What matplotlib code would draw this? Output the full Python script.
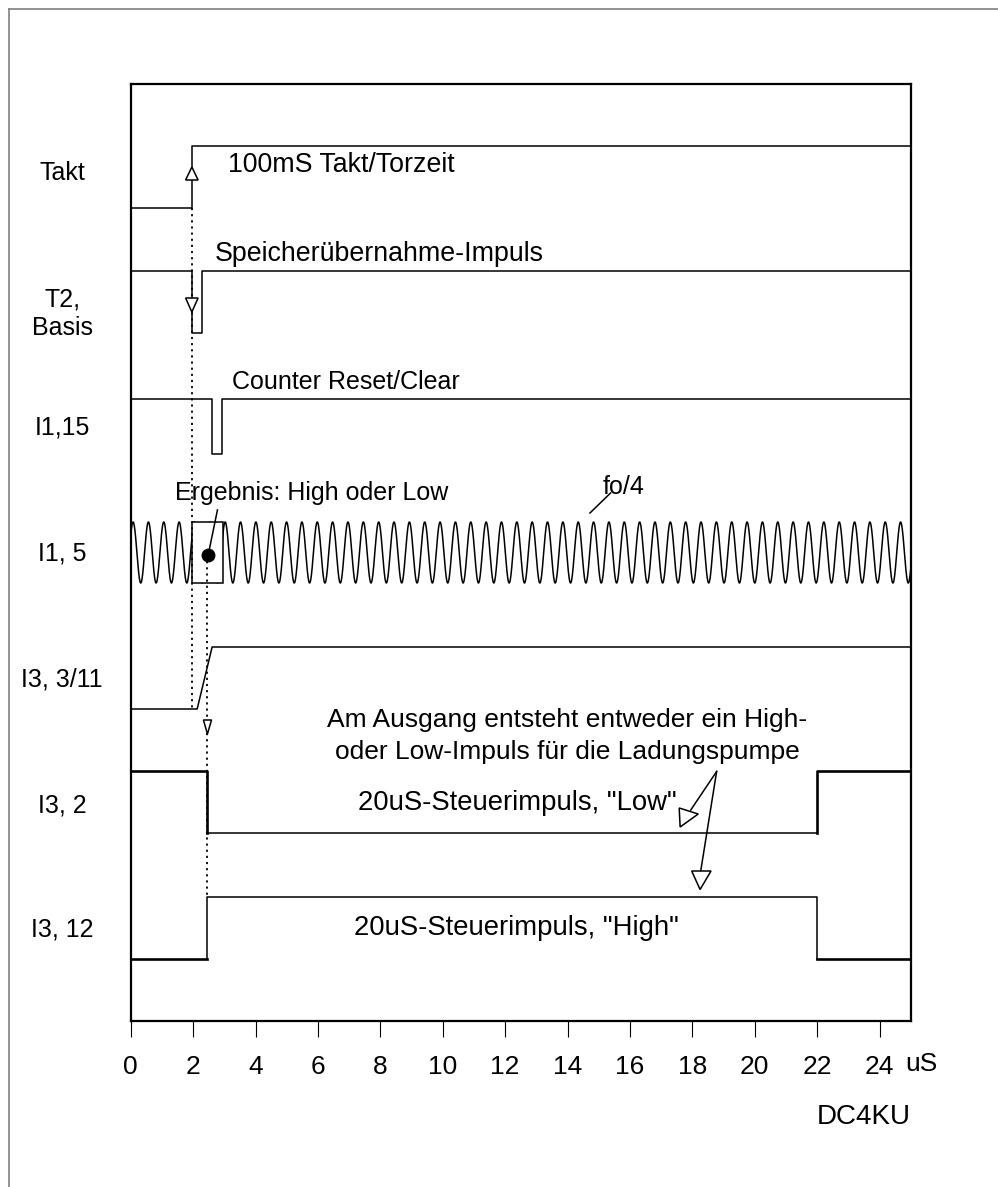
import matplotlib
matplotlib.use('Agg')
import matplotlib.pyplot as plt
from matplotlib.lines import Line2D
from matplotlib.patches import Polygon, Rectangle
import numpy as np

plt.rcParams['font.family'] = ['Liberation Sans', 'DejaVu Sans']

# time axis in uS, vertical positions in drawing units (top = small)
ticks = list(range(0, 25, 2))
tick_labels = [str(t) for t in ticks]

lane_labels = ['Takt', 'T2,\nBasis', 'I1,15', 'I1, 5', 'I3, 3/11', 'I3, 2', 'I3, 12']
lane_label_y = [173, 314, 427, 553, 680, 805, 930]

# signal traces (time, level)
takt_t = [0, 1.96, 1.96, 25]
takt_y = [208, 208, 146, 146]
t2_t = [0, 1.96, 1.96, 2.3, 2.3, 25]
t2_y = [271, 271, 333, 333, 271, 271]
reset_t = [0, 2.62, 2.62, 2.94, 2.94, 25]
reset_y = [399, 399, 454, 454, 399, 399]
i3_311_t = [0, 2.13, 2.61, 25]
i3_311_y = [709, 709, 647, 647]
i3_2_thick_a = ([0, 2.46, 2.46], [771, 771, 833])
i3_2_thin = ([2.46, 22.0], [833, 833])
i3_2_thick_b = ([22.0, 22.0, 25], [833, 771, 771])
i3_12_thick_a = ([0, 2.46], [959, 959])
i3_12_thin = ([2.46, 2.46, 22.0, 22.0], [959, 897, 897, 959])
i3_12_thick_b = ([22.0, 25], [959, 959])

# fo/4 clock
fo4_center = 552.5
fo4_amp = 30.5
fo4_period = 0.492
fo4_first_peak = 0.076

# result window on the clock
win_t0, win_t1 = 1.98, 2.96
win_top, win_bot = 522, 583
dot_t, dot_y = 2.47, 555

fig = plt.figure(figsize=(9.98, 11.87), dpi=100)
ax = fig.add_axes([130.7 / 998, 1 - 1021 / 1187, 780 / 998, 937 / 1187])
ax.set_xlim(0, 25)
ax.set_ylim(1021, 84)

for s in ax.spines.values():
    s.set_linewidth(1.6)

ax.set_yticks([])
ax.set_xticks(ticks)
ax.set_xticklabels(tick_labels, fontsize=19)
ax.tick_params(axis='x', direction='out', length=11.5, width=0.8, pad=13)

lw = 1.1
thick = 1.9
ax.plot(takt_t, takt_y, color='black', lw=lw)
ax.plot(t2_t, t2_y, color='black', lw=lw)
ax.plot(reset_t, reset_y, color='black', lw=lw)
ax.plot(i3_311_t, i3_311_y, color='black', lw=lw)
ax.plot(*i3_2_thick_a, color='black', lw=thick)
ax.plot(*i3_2_thin, color='black', lw=lw)
ax.plot(*i3_2_thick_b, color='black', lw=thick)
ax.plot(*i3_12_thick_a, color='black', lw=thick)
ax.plot(*i3_12_thin, color='black', lw=lw)
ax.plot(*i3_12_thick_b, color='black', lw=thick)

tt = np.linspace(0, 25, 5000)
ax.plot(tt, fo4_center - fo4_amp * np.cos(2 * np.pi * (tt - fo4_first_peak) / fo4_period),
        color='black', lw=lw)
ax.add_patch(Rectangle((win_t0, win_top), win_t1 - win_t0, win_bot - win_top,
                       facecolor='white', edgecolor='black', lw=lw, zorder=3))

# dotted guides
dots = (0, (1.2, 2.2))
ax.plot([1.98, 1.98], [208, 709], color='black', lw=1.3, ls=dots, zorder=4)
ax.plot([dot_t - 0.01, dot_t - 0.01], [dot_y, 897], color='black', lw=1.3, ls=dots, zorder=4)
ax.plot([dot_t], [dot_y], marker='o', ms=9, color='black', zorder=5)


def tri(pts):
    ax.add_patch(Polygon(pts, closed=True, facecolor='white', edgecolor='black', lw=1.1, zorder=6))


# open arrow heads
tri([(1.96 - 0.2, 180), (1.96 + 0.2, 180), (1.96, 167)])
tri([(1.96 - 0.2, 298), (1.96 + 0.2, 298), (1.96, 312)])
tri([(2.46 - 0.13, 720), (2.46 + 0.13, 720), (2.46, 734)])

# Ladungspumpe pointers
apex = (18.78, 771.5)
ax.plot([apex[0], 17.95], [apex[1], 810], color='black', lw=lw)
tri([(17.58, 808), (17.61, 827), (18.19, 814)])
ax.plot([apex[0], 18.27], [apex[1], 871], color='black', lw=lw)
tri([(17.98, 871), (18.60, 871), (18.25, 889.5)])

# leaders
ax.plot([2.78, 2.51], [510, 551], color='black', lw=lw, zorder=6)
ax.plot([15.38, 14.72], [493, 513], color='black', lw=lw)

fs = 18
for lab, y in zip(lane_labels, lane_label_y):
    ax.text(-2.2, y, lab, fontsize=fs, ha='center', va='center', clip_on=False, linespacing=1.25)

ax.text(3.11, 165, '100mS Takt/Torzeit', fontsize=19.3, va='center')
ax.text(2.70, 254, 'Speicherübernahme-Impuls', fontsize=19.3, va='center')
ax.text(3.25, 382, 'Counter Reset/Clear', fontsize=fs, va='center')
ax.text(1.42, 493, 'Ergebnis: High oder Low', fontsize=fs, va='center', zorder=7)
ax.text(15.14, 487, 'fo/4', fontsize=fs, va='center')
ax.text(13.98, 736, 'Am Ausgang entsteht entweder ein High-\noder Low-Impuls für die Ladungspumpe',
        fontsize=19, ha='center', va='center', linespacing=1.38)
ax.text(7.29, 803, '20uS-Steuerimpuls, "Low"', fontsize=19.8, va='center')
ax.text(7.16, 928, '20uS-Steuerimpuls, "High"', fontsize=19.8, va='center')
ax.text(24.81, 1064, 'uS', fontsize=19, va='center', clip_on=False)
ax.text(25, 1117, 'DC4KU', fontsize=20, ha='right', va='center', clip_on=False)

# outer page frame (left and top only)
fig.add_artist(Line2D([9 / 998, 9 / 998], [0, 1 - 9 / 1187], color='#808080', lw=1.2))
fig.add_artist(Line2D([9 / 998, 1], [1 - 9 / 1187, 1 - 9 / 1187], color='#808080', lw=1.2))

fig.savefig('out.png', dpi=100)
